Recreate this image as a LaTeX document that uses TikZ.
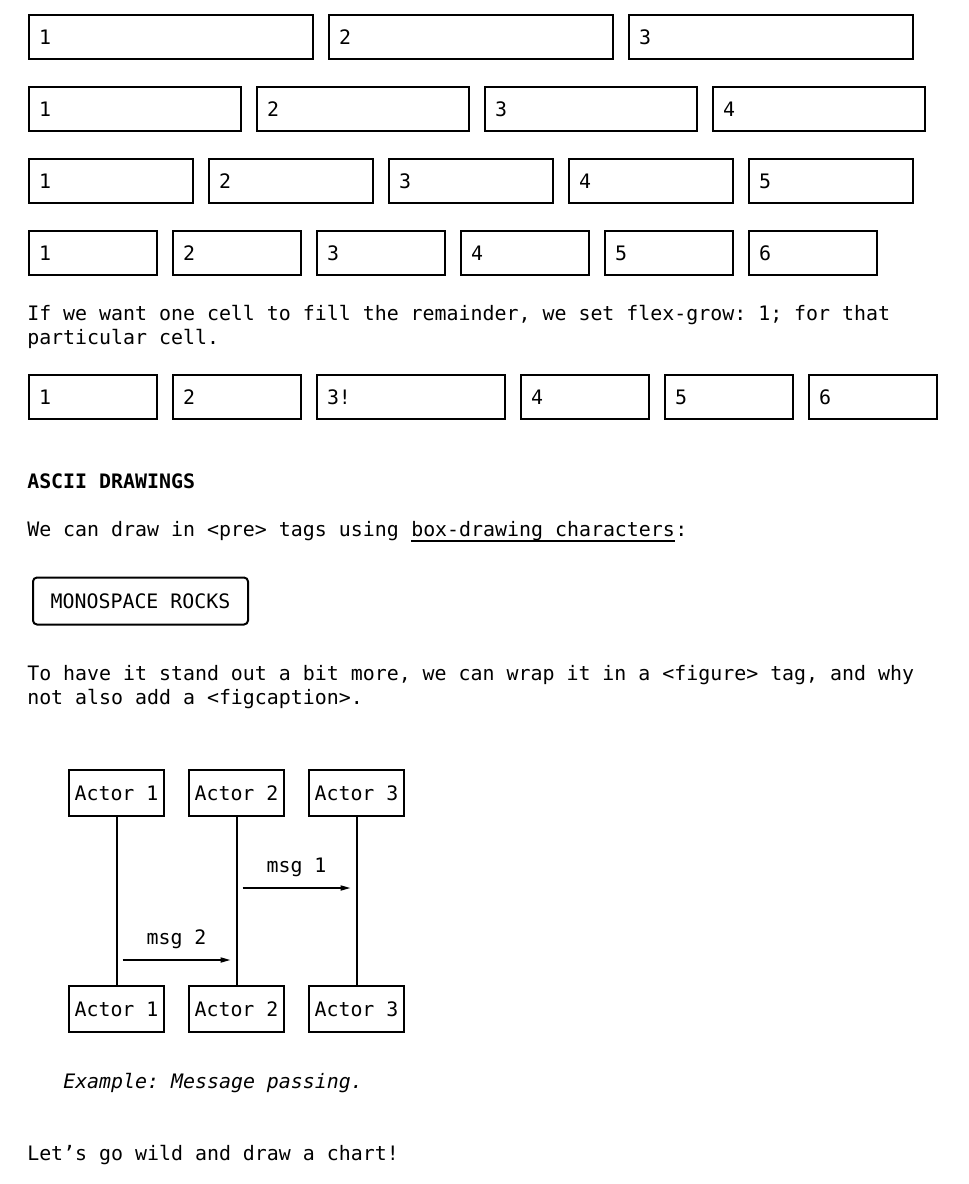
\documentclass[tikz,border=0pt]{standalone}
\usepackage{fontspec}
\setmainfont{DejaVu Sans Mono}
\usepackage{tikz}
\usetikzlibrary{calc}
\usetikzlibrary{arrows.meta}
\tikzset{
cell/.style = {draw, line width=1.5pt,
        anchor=north west,
        minimum height=33pt,
        inner xsep=7.5pt, inner ysep=0pt,
        align=left, text width=#1
            },
line/.style = {anchor=base west, inner sep=0pt},
actor/.style = {draw, line width=1.5pt,
        minimum width=71.25pt, minimum height=34.5pt,
        inner sep=0pt
            },
msg/.style = {line width=1.2pt,
        -{Triangle[length=7.5pt,width=3.8pt]}
            }
        }

\begin{document}
\frenchspacing
\begin{tikzpicture}[x=0.75pt, y=-0.75pt, font=\fontsize{14.93}{18}\selectfont]

%%% Page size:

\useasboundingbox (0,0) rectangle (968,1184);

%%% Rows of cells:

\node[cell=198pt] (r1c1) at (28,14) {1};
\node[cell=198pt] (r1c2) at (328,14) {2};
\node[cell=198pt] (r1c3) at (628,14) {3};

\node[cell=144pt] (r2c1) at (28,86) {1};
\node[cell=144pt] (r2c2) at (256,86) {2};
\node[cell=144pt] (r2c3) at (484,86) {3};
\node[cell=144pt] (r2c4) at (712,86) {4};

\node[cell=108pt] (r3c1) at (28,158) {1};
\node[cell=108pt] (r3c2) at (208,158) {2};
\node[cell=108pt] (r3c3) at (388,158) {3};
\node[cell=108pt] (r3c4) at (568,158) {4};
\node[cell=108pt] (r3c5) at (748,158) {5};

\node[cell=81pt] (r4c1) at (28,230) {1};
\node[cell=81pt] (r4c2) at (172,230) {2};
\node[cell=81pt] (r4c3) at (316,230) {3};
\node[cell=81pt] (r4c4) at (460,230) {4};
\node[cell=81pt] (r4c5) at (604,230) {5};
\node[cell=81pt] (r4c6) at (748,230) {6};

\node[line] (grow1) at (27,320) {If we want one cell to fill the remainder, we set flex-grow: 1; for that};
\node[line] (grow2) at (27,344) {particular cell.};

\node[cell=81pt] (r5c1) at (28,374) {1};
\node[cell=81pt] (r5c2) at (172,374) {2};
\node[cell=126pt] (r5c3) at (316,374) {3!};
\node[cell=81pt] (r5c4) at (520,374) {4};
\node[cell=81pt] (r5c5) at (664,374) {5};
\node[cell=81pt] (r5c6) at (808,374) {6};

%%% ASCII part:

\node[line, font=\fontsize{14.93}{18}\selectfont\bfseries] (head) at (27,488) {ASCII DRAWINGS};

\node[line] (pre1) at (27,536) {We can draw in <pre> tags using};
\node[line] (link) at (411,536) {box-drawing characters};
\node[line] (pre2) at (675,536) {:};
\draw[line width=1.5pt] ($(link.base west)+(0,5)$) -- ($(link.base east)+(0,5)$);

\node[draw, line width=1.5pt, rounded corners=3pt,
      minimum width=161.25pt, minimum height=35.25pt, inner sep=0pt]
      (rocks) at (140.5,601) {MONOSPACE ROCKS};

\node[line] (fig1) at (27,680) {To have it stand out a bit more, we can wrap it in a <figure> tag, and why};
\node[line] (fig2) at (27,704) {not also add a <figcaption>.};

%%% Message passing:

\node[actor] (A1) at (116.5,793) {Actor 1};
\node[actor] (A2) at (236.5,793) {Actor 2};
\node[actor] (A3) at (356.5,793) {Actor 3};

\node[actor] (B1) at (116.5,1009) {Actor 1};
\node[actor] (B2) at (236.5,1009) {Actor 2};
\node[actor] (B3) at (356.5,1009) {Actor 3};

\draw[line width=1.5pt] (A1) -- (B1);
\draw[line width=1.5pt] (A2) -- (B2);
\draw[line width=1.5pt] (A3) -- (B3);

\coordinate (m1s) at ($(A2.south)+(6,71)$);
\coordinate (m1e) at ($(A3.south)+(-6,71)$);
\coordinate (m2s) at ($(A1.south)+(6,143)$);
\coordinate (m2e) at ($(A2.south)+(-6,143)$);

\draw[msg] (m1s) -- (m1e);
\draw[msg] (m2s) -- (m2e);

\node[anchor=base, inner sep=0pt] (msg1) at ($(m1s)!0.5!(m1e)+(0,-16)$) {msg 1};
\node[anchor=base, inner sep=0pt] (msg2) at ($(m2s)!0.5!(m2e)+(0,-16)$) {msg 2};

\node[line, font=\fontsize{14.93}{18}\selectfont\itshape] (caption) at (63,1088) {Example: Message passing.};

\node[line] (wild) at (27,1160) {Let’s go wild and draw a chart!};

\end{tikzpicture}
\end{document}
